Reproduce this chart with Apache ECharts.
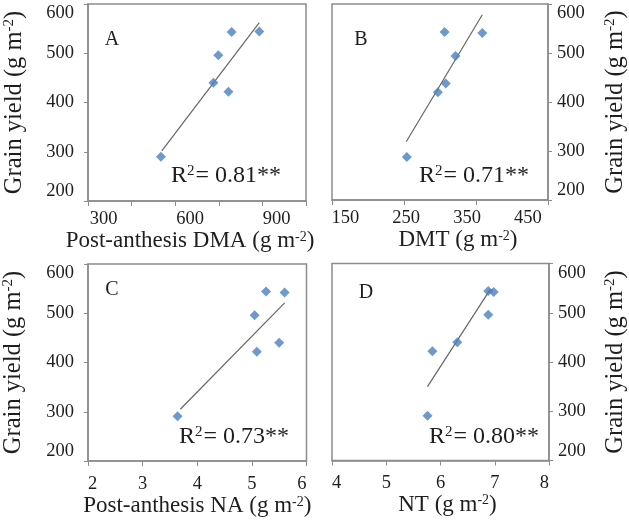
<!DOCTYPE html>
<html><head><meta charset="utf-8">
<script src="https://cdn.jsdelivr.net/npm/echarts@6/dist/echarts.min.js"></script>
<style>html,body{margin:0;padding:0;background:#fff}#c{width:629px;height:525px}</style>
</head><body><div id="c"></div>
<script>
// ---- data ----
const yieldTicks = [200, 300, 400, 500, 600];

// A: Post-anthesis DMA vs grain yield
const dmaX = [499, 733, 681, 698, 744, 840];
const dmaY = [290, 422, 440, 496, 543, 544];
const dmaFitX = [502, 840];
const dmaFitY = [302, 562];
const dmaLabels = [300, 600, 900];

// B: DMT vs grain yield
const dmtX = [251, 302, 315, 331, 313, 375];
const dmtY = [288, 420, 438, 494, 543, 541];
const dmtFitX = [250, 375];
const dmtFitY = [319, 578];
const dmtLabels = [150, 250, 350, 450];

// C: Post-anthesis NA vs grain yield
const naX = [3.64, 5.09, 5.50, 5.05, 5.26, 5.60];
const naY = [291, 422, 440, 496, 544, 542];
const naFitX = [3.69, 5.60];
const naFitY = [305, 521];
const naLabels = [2, 3, 4, 5, 6];

// D: NT vs grain yield
const ntX = [5.76, 5.85, 6.31, 6.88, 6.88, 6.98];
const ntY = [291, 422, 440, 496, 544, 542];
const ntFitX = [5.76, 6.92];
const ntFitY = [350, 548];
const ntLabels = [4, 5, 6, 7, 8];

const panelNames = ['A', 'B', 'C', 'D'];
const r2Texts = ['0.81**', '0.71**', '0.73**', '0.80**'];

// ---- styling ----
const FONT = 'Liberation Serif';
const TXT = '#1e1e1e';
const BOX = '#8c8c8c';
const richTitle = {
  a: { fontFamily: FONT, fontSize: 23, color: TXT },
  s: { fontFamily: FONT, fontSize: 14, color: TXT, verticalAlign: 'top', padding: [0, 0, 8, 0] }
};
const richYTitle = {
  a: { fontFamily: FONT, fontSize: 24.5, color: TXT },
  s: { fontFamily: FONT, fontSize: 15, color: TXT, verticalAlign: 'top', padding: [0, 0, 8, 0] }
};
const pairs = (xs, ys) => xs.map((x, i) => [x, ys[i]]);

function xAxis(gi, min, max, labels, ticks, title, gap, pad, margin, alignEnds) {
  const ax = {
    gridIndex: gi, type: 'value', min, max,
    axisLine: { show: true, onZero: false, lineStyle: { color: BOX, width: 1.5 } },
    axisTick: { show: true, length: 5, lineStyle: { color: BOX, width: 1 } },
    axisLabel: { fontFamily: FONT, fontSize: 18.5, color: TXT, margin: margin },
    splitLine: { show: false },
    name: title, nameLocation: 'middle', nameGap: gap,
    nameTextStyle: { fontFamily: FONT, fontSize: 23, color: TXT, padding: pad, rich: richTitle }
  };
  if (ticks) {
    ax.axisTick.customValues = ticks;
    ax.axisLabel.customValues = labels;
  } else {
    ax.interval = 1;
  }
  if (alignEnds) {
    ax.axisLabel.alignMinLabel = 'left';
    ax.axisLabel.alignMaxLabel = 'right';
  }
  return ax;
}
function yAxis(gi, side, gap) {
  return {
    gridIndex: gi, type: 'value', min: yieldTicks[0], max: yieldTicks[yieldTicks.length - 1],
    interval: yieldTicks[1] - yieldTicks[0], position: side,
    axisLine: { show: true, onZero: false, lineStyle: { color: BOX, width: 1.5 } },
    axisTick: { show: true, length: 4, lineStyle: { color: BOX, width: 1 } },
    axisLabel: { fontFamily: FONT, fontSize: 18.5, color: TXT, margin: side === 'left' ? 14 : 9,
      verticalAlignMaxLabel: 'top', verticalAlignMinLabel: 'bottom' },
    splitLine: { show: false },
    name: '{a|Grain yield (g m}{s|-2}{a|)}', nameLocation: 'middle', nameGap: gap, nameRotate: 90,
    nameTextStyle: { fontFamily: FONT, fontSize: 24.5, color: TXT, rich: richYTitle }
  };
}

const grids = [
  { left: 88, top: 4, width: 218, height: 197 },
  { left: 332, top: 4, width: 217, height: 196 },
  { left: 87.5, top: 264, width: 219, height: 197 },
  { left: 332, top: 263.5, width: 219.5, height: 197 }
].map(g => Object.assign(g, { show: true, borderColor: BOX, borderWidth: 1.5, backgroundColor: 'transparent' }));

const xAxes = [
  xAxis(0, 246, 1002, dmaLabels, [246, 397, 548, 700, 851, 1002],
    '{a|Post-anthesis DMA (g m}{s|-2}{a|)}', 24, [0, 14, 0, 0], 9, false),
  xAxis(1, 128, 483, dmtLabels, [128, 246.3, 364.7, 483],
    '{a|DMT (g m}{s|-2}{a|)}', 25, [0, 0, 0, 36], 9, false),
  xAxis(2, naLabels[0], naLabels[naLabels.length - 1], naLabels, null,
    '{a|Post-anthesis NA (g m}{s|-2}{a|)}', 26, [0, 0, 0, 0], 14, true),
  xAxis(3, ntLabels[0], ntLabels[ntLabels.length - 1], ntLabels, null,
    '{a|NT (g m}{s|-2}{a|)}', 31, [0, 0, 0, 14], 13, true)
];
const yAxes = [yAxis(0, 'left', 61), yAxis(1, 'right', 55), yAxis(2, 'left', 62), yAxis(3, 'right', 54)];

const sets = [
  [dmaX, dmaY, dmaFitX, dmaFitY],
  [dmtX, dmtY, dmtFitX, dmtFitY],
  [naX, naY, naFitX, naFitY],
  [ntX, ntY, ntFitX, ntFitY]
];
const series = [];
sets.forEach((s, i) => {
  series.push({
    type: 'line', xAxisIndex: i, yAxisIndex: i, data: pairs(s[2], s[3]),
    symbol: 'none', silent: true, lineStyle: { color: '#666666', width: 1.2 }, z: 2
  });
  series.push({
    type: 'scatter', xAxisIndex: i, yAxisIndex: i, data: pairs(s[0], s[1]),
    symbol: 'diamond', symbolSize: 10, itemStyle: { color: '#4a7fbf' }, z: 3
  });
});

const letterPos = [[112, 40], [361, 40], [112, 290], [366, 293]];
const r2Pos = [[281, 176], [529, 176], [289, 437], [539, 437]];
const graphic = [];
panelNames.forEach((n, i) => {
  graphic.push({ type: 'text', x: letterPos[i][0], y: letterPos[i][1],
    style: { text: n, font: '20px "Liberation Serif"', fill: TXT, align: 'center', verticalAlign: 'middle' } });
  graphic.push({ type: 'text', x: r2Pos[i][0], y: r2Pos[i][1],
    style: { text: '{a|R}{s|2}{a|= ' + r2Texts[i] + '}', align: 'right', verticalAlign: 'middle',
      rich: { a: { fontFamily: FONT, fontSize: 24, fill: TXT },
              s: { fontFamily: FONT, fontSize: 15, fill: TXT, verticalAlign: 'top', padding: [0, 1, 8, 0] } } } });
});

const chart = echarts.init(document.getElementById('c'), null, { renderer: 'canvas' });
chart.setOption({
  backgroundColor: '#fff', animation: false,
  grid: grids, xAxis: xAxes, yAxis: yAxes, series, graphic
});
</script>
</body></html>
